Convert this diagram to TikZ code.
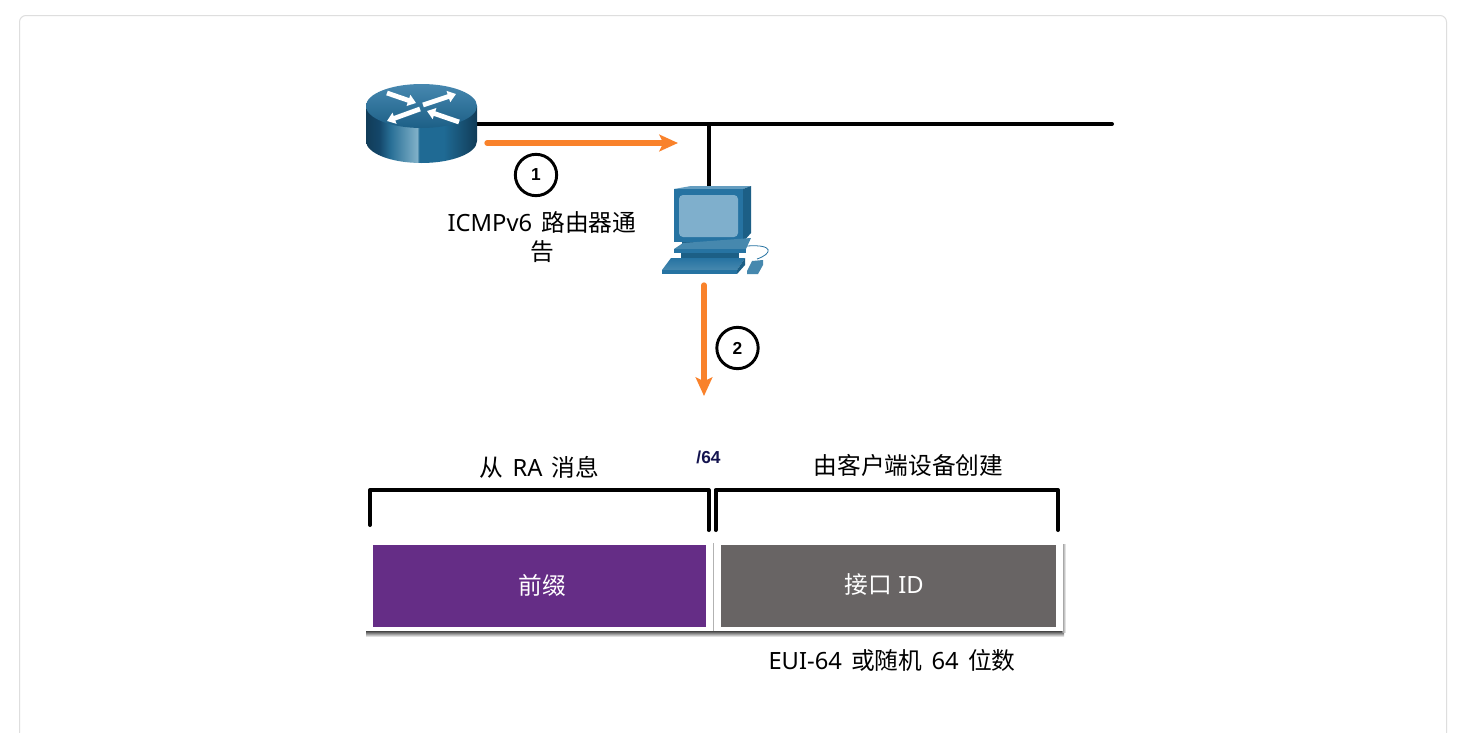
\documentclass[tikz,border=0pt]{standalone}
\usepackage{fontspec}
\setmainfont{Noto Sans}[WordSpace=1.5]
\newfontfamily\cjk{Noto Sans CJK SC}
\newfontfamily\boldf{Liberation Sans Bold}
\usepackage{xcolor}
\usetikzlibrary{arrows.meta,positioning}
\definecolor{accent}{HTML}{F9822B}
\definecolor{prefixc}{HTML}{652D86}
\definecolor{hostc}{HTML}{686464}
\definecolor{navyc}{HTML}{14144F}
\definecolor{devA}{HTML}{2673A2}
\definecolor{devB}{HTML}{1C5F86}
\definecolor{devC}{HTML}{7FAFCC}
\definecolor{devD}{HTML}{4688AE}
\definecolor{rsA}{HTML}{14476A}
\definecolor{rsB}{HTML}{286F96}
\definecolor{rsC}{HTML}{7FB0C8}
\definecolor{rsD}{HTML}{1F6A94}
\definecolor{rsE}{HTML}{113C58}
\pgfdeclarehorizontalshading{routerside}{100bp}{
 color(0bp)=(rsE);color(25bp)=(rsE);color(31bp)=(rsA);
 color(36bp)=(rsB);color(48bp)=(rsC);color(49bp)=(rsD);
 color(60bp)=(rsD);color(75bp)=(rsE);color(100bp)=(rsE)}
\begin{document}
\begin{tikzpicture}[x=0.75pt,y=-0.75pt,
  linebus/.style={draw=black,line width=3pt,line cap=round},
  flow/.style={draw=accent,line width=4pt,line cap=round,-{Stealth[length=14pt,width=12.5pt,inset=3pt]}},
  stepnum/.style={circle,draw=black,line width=2.2pt,minimum size=31pt,inner sep=0pt,font=\boldf\fontsize{13}{15}\selectfont},
  lbl/.style={font=\fontsize{17.8}{25}\selectfont,align=center,inner sep=0pt},
  brace/.style={draw=black,line width=3pt,line cap=round,line join=round},
  whitearrow/.style={draw=white,line width=3.6pt,-{Triangle[length=6pt,width=8.5pt]}}]
\useasboundingbox (0,0) rectangle (1473,732);
\fill[white] (0,0) rectangle (1473,732);
\draw[color=black!13,line width=0.75pt] (19.5,733)--(19.5,22) arc[start angle=180,end angle=270,radius=6.5]--(1440,15.5) arc[start angle=270,end angle=360,radius=6.5]--(1446.5,733);

\coordinate (busL) at (477,124);
\coordinate (busR) at (1112,124);
\coordinate (tap) at (709,124);
\coordinate (hostTop) at (709,186);
\draw[linebus] (busL)--(busR);
\draw[linebus] (tap)--(hostTop);

\path[shade,shading=routerside] (366,106)--(366,141) arc[start angle=180,end angle=0,x radius=55.5,y radius=22]--(477,106)--cycle;
\path[shade,top color=devA!85!white,bottom color=devB] (421.5,106) ellipse[x radius=55.5,y radius=22];
\draw[whitearrow] (387,93)--(416,103);
\draw[whitearrow] (423,105)--(456,94);
\draw[whitearrow] (420,109)--(387,121);
\draw[whitearrow] (459,122)--(427,111);
\node (router) at (421.5,123) [minimum width=83pt,minimum height=59pt,inner sep=0pt] {};

\fill[devC!70!devA] (674,189)--(691,186)--(751,186)--(743,189)--cycle;
\fill[devB] (743,189)--(751,186)--(751,233)--(743,242)--cycle;
\fill[devA] (674,189) rectangle (743,242);
\fill[devC,rounded corners=3pt] (679,195) rectangle (738,237);
\fill[devB] (682,242)--(740,242)--(740,245)--(682,245)--cycle;
\fill[devD] (674,249)--(683,243)--(751,238)--(746,249)--cycle;
\fill[devA] (674,249) rectangle (746,253);
\fill[devB] (681,253) rectangle (739,258);
\path[shade,top color=devA,bottom color=devD] (662,270)--(671,258)--(745,258)--(737,270)--cycle;
\fill[devA] (662,270) rectangle (737,274);
\fill[devB] (737,270)--(745,258)--(745,265)--(737,274)--cycle;
\fill[devD] (747,271)--(752,261)--(763,260)--(763,265)--(758,274)--(747,274)--cycle;
\draw[devA,line width=0.6pt] (747,246) .. controls (775,244) and (772,254) .. (757,259);
\node (host) at (706,230) [minimum width=90pt,minimum height=67pt,inner sep=0pt] {};

\coordinate (a1s) at (487,143);
\coordinate (a1e) at (678,143);
\coordinate (a2s) at (704,285);
\coordinate (a2e) at (704,396);
\draw[flow] (a1s)--(a1e);
\draw[flow] (a2s)--(a2e);
\node (n1) at (536,175) [stepnum] {1};
\node (n2) at (737.5,348) [stepnum] {2};
\node (ra) at (542,237) [lbl] {ICMPv6 {\cjk 路由器通}\\[-3.75pt]{\cjk 告}};

\node (fromra) at (539.5,467) [lbl] {{\cjk 从} RA {\cjk 消息}};
\node (cut) at (708.5,457) [font=\boldf\fontsize{13}{15}\selectfont,text=navyc,inner sep=0pt] {/64};
\node (fromhost) at (908.5,465) [lbl] {{\cjk 由客户端设备创建}};
\draw[brace] (370,525)--(370,490)--(708.5,490)--(708.5,530);
\draw[brace] (715.5,530)--(715.5,490)--(1058,490)--(1058,530);

\path[shade,top color=black!85,bottom color=white] (366,630) rectangle (1064,637);
\path[shade,left color=black!45,right color=white] (1062,544) rectangle (1066,632);
\fill[black!30] (712.5,543) rectangle (714,631);
\fill[white] (366,541) rectangle (712.5,630.5);
\fill[white] (714,541) rectangle (1062.5,630.5);
\node (prefix) at (539.5,586) [fill=prefixc,minimum width=250pt,minimum height=61.5pt,inner sep=0pt] {};
\node (iface) at (888.5,586) [fill=hostc,minimum width=251pt,minimum height=61.5pt,inner sep=0pt] {};
\node (prefixT) at (542,585) [lbl,text=white] {{\cjk 前缀}};
\node (ifaceT) at (884,585) [lbl,text=white] {{\cjk 接口}\hspace{-2pt} ID};
\node (eui) at (892,660) [lbl] {EUI-64 {\cjk 或随机} 64 {\cjk 位数}};
\end{tikzpicture}
\end{document}
